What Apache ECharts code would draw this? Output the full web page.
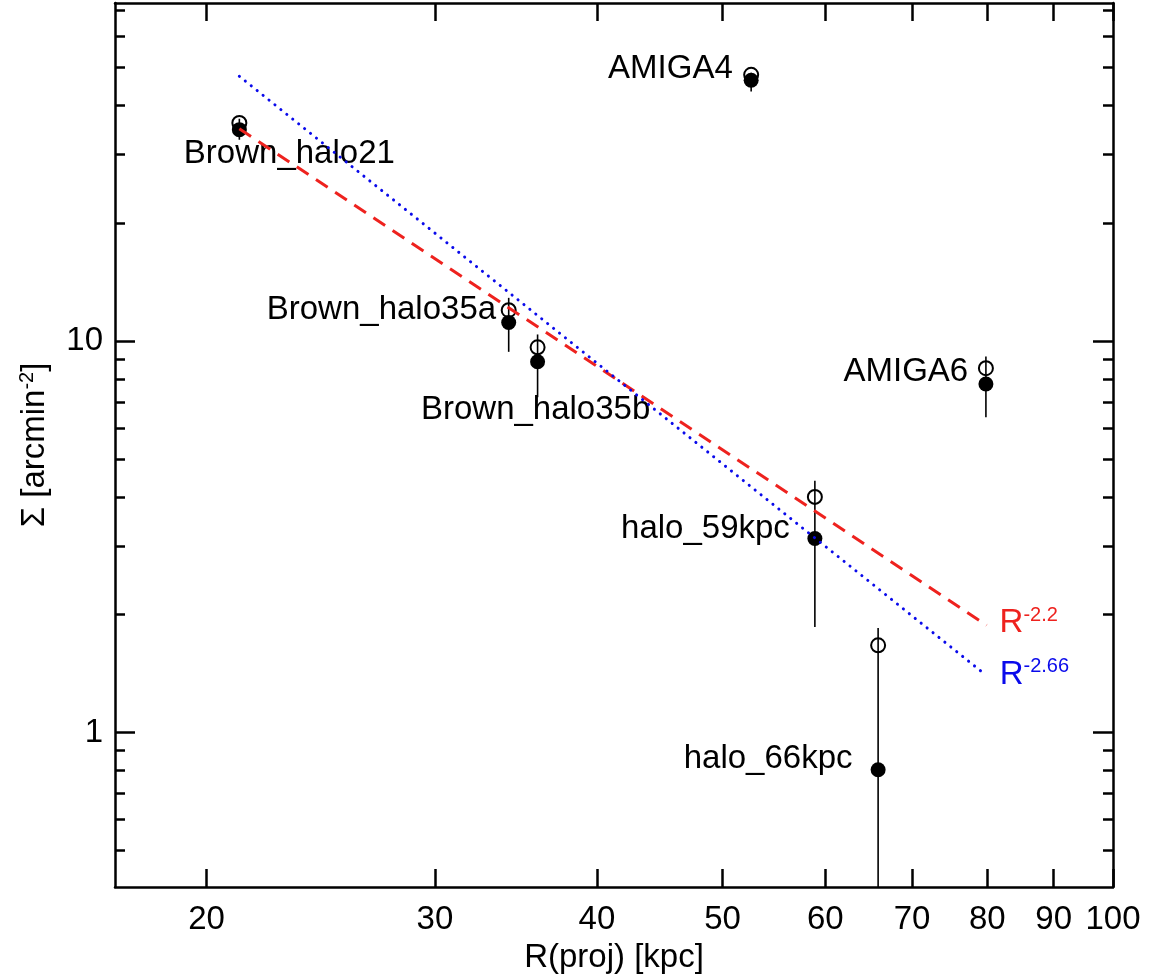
<!DOCTYPE html>
<html>
<head>
<meta charset="utf-8">
<script src="https://cdn.jsdelivr.net/npm/echarts@6/dist/echarts.min.js"></script>
<style>
html,body{margin:0;padding:0;background:#fff;}
#chart{width:1149px;height:979px;}
</style>
</head>
<body>
<div id="chart"></div>
<script>
// ---- data ----
const names = ['Brown_halo21', 'Brown_halo35a', 'Brown_halo35b', 'AMIGA4', 'AMIGA6', 'halo_59kpc', 'halo_66kpc'];
const rProj = [21.2, 34.2, 36.0, 52.6, 79.8, 58.9, 65.9];
const sigmaOpen = [36.1, 12.0, 9.64, 47.9, 8.53, 4.00, 1.67];
const sigmaFilled = [34.7, 11.16, 8.86, 46.4, 7.77, 3.13, 0.803];
const errLow = [32.7, 9.39, 7.19, 43.4, 6.39, 1.86, 0.30];
const errHigh = [37.0, 12.9, 10.4, 48.5, 9.14, 4.40, 1.85];

const redFitR = [21.2, 79.9];
const redFitSigma = [34.9, 1.88];
const blueFitR = [21.2, 79.2];
const blueFitSigma = [47.5, 1.43];

const xTicks = [20, 30, 40, 50, 60, 70, 80, 90, 100];
const yMajorTicks = [1, 10];
const yMinorTicks = [0.5, 0.6, 0.7, 0.8, 0.9, 2, 3, 4, 5, 6, 7, 8, 9, 20, 30, 40, 50, 60, 70];
const xRange = [17, 100];
const yRange = [0.403, 73.1];

// ---- label placement (styles, not data) ----
const labelPlacement = {
  'Brown_halo21': {align: 'center', offset: [50, 24]},
  'Brown_halo35a': {align: 'right', offset: [-12.6, -12.3]},
  'Brown_halo35b': {align: 'right', offset: [112.7, 48]},
  'AMIGA4': {align: 'right', offset: [-18.4, -11.7]},
  'AMIGA6': {align: 'right', offset: [-17.7, -12.5]},
  'halo_59kpc': {align: 'right', offset: [-25, -10]},
  'halo_66kpc': {align: 'right', offset: [-25.6, -10.7]}
};

const FONT = 'Liberation Sans';
const RED = 'rgb(238,34,30)';
const BLUE = 'rgb(10,10,235)';

const chart = echarts.init(document.getElementById('chart'), null, {renderer: 'canvas'});

function xAxisCfg(pos, showLabel) {
  return {
    type: 'log', min: xRange[0], max: xRange[1], position: pos,
    axisLine: {show: true, onZero: false, lineStyle: {color: '#000', width: 2.5}},
    axisTick: {show: true, inside: true, length: 18, lineStyle: {color: '#000', width: 2.5}, customValues: xTicks},
    axisLabel: {show: showLabel, customValues: xTicks, fontSize: 33, fontFamily: FONT, color: '#000', margin: 16},
    splitLine: {show: false}, minorTick: {show: false},
    name: showLabel ? 'R(proj) [kpc]' : '',
    nameLocation: 'middle', nameGap: 54,
    nameTextStyle: {fontSize: 33, fontFamily: FONT, color: '#000'}
  };
}
function yAxisCfg(pos, ticks, len, showLabel, showLine, title) {
  return {
    type: 'log', min: yRange[0], max: yRange[1], position: pos,
    axisLine: {show: showLine, onZero: false, lineStyle: {color: '#000', width: 2.5}},
    axisTick: {show: true, inside: true, length: len, lineStyle: {color: '#000', width: 2.5}, customValues: ticks},
    axisLabel: {show: showLabel, customValues: ticks, fontSize: 33, fontFamily: FONT, color: '#000', margin: 12},
    splitLine: {show: false}, minorTick: {show: false},
    name: title || '',
    nameLocation: 'middle', nameGap: 62, nameRotate: 90,
    nameTextStyle: {
      fontSize: 33, fontFamily: FONT, color: '#000',
      rich: {
        b: {fontSize: 33, fontFamily: FONT, color: '#000', lineHeight: 36},
        s: {fontSize: 20, fontFamily: FONT, color: '#000', lineHeight: 24, verticalAlign: 'top'}
      }
    }
  };
}

const errData = rProj.map((r, i) => [r, errLow[i], errHigh[i]]);
const openData = rProj.map((r, i) => [r, sigmaOpen[i]]);
const filledData = rProj.map((r, i) => {
  const lp = labelPlacement[names[i]];
  return {
    value: [r, sigmaFilled[i]],
    name: names[i],
    label: {
      show: true, position: 'inside', formatter: names[i],
      align: lp.align, verticalAlign: 'middle', offset: lp.offset,
      fontSize: 33, fontFamily: FONT, color: '#000', opacity: 1,
      textBorderWidth: 0
    }
  };
});

function endLabel(color, sup, off) {
  return {
    show: true, offset: off, distance: 0, align: 'left', verticalAlign: 'middle',
    formatter: '{b|R}{s|' + sup + '}',
    rich: {
      b: {fontSize: 33, fontFamily: FONT, color: color, lineHeight: 36},
      s: {fontSize: 20, fontFamily: FONT, color: color, lineHeight: 24, verticalAlign: 'top'}
    }
  };
}

const option = {
  animation: false,
  backgroundColor: '#fff',
  grid: {left: 115, right: 36, top: 3, bottom: 90, containLabel: false},
  xAxis: [xAxisCfg('bottom', true), xAxisCfg('top', false)],
  yAxis: [
    yAxisCfg('left', yMajorTicks, 20, true, true, '{b|\u03A3 [arcmin}{s|-2}{b|]}'),
    yAxisCfg('left', yMinorTicks, 10, false, false, ''),
    yAxisCfg('right', yMajorTicks, 20, false, true, ''),
    yAxisCfg('right', yMinorTicks, 10, false, false, '')
  ],
  series: [
    {
      type: 'custom', name: 'errors', xAxisIndex: 0, yAxisIndex: 0, clip: true, z: 2,
      data: errData,
      renderItem: function (params, api) {
        const p1 = api.coord([api.value(0), api.value(1)]);
        const p2 = api.coord([api.value(0), api.value(2)]);
        return {type: 'line', shape: {x1: p1[0], y1: p1[1], x2: p2[0], y2: p2[1]},
                style: {stroke: '#000', lineWidth: 1.6}};
      }
    },
    {
      type: 'scatter', name: 'open', xAxisIndex: 0, yAxisIndex: 0, z: 3,
      symbol: 'circle', symbolSize: 14,
      itemStyle: {color: 'rgba(0,0,0,0)', borderColor: '#000', borderWidth: 2, opacity: 1},
      emphasis: {disabled: true},
      data: openData
    },
    {
      type: 'scatter', name: 'filled', xAxisIndex: 0, yAxisIndex: 0, z: 4,
      symbol: 'circle', symbolSize: 15,
      itemStyle: {color: '#000', opacity: 1},
      emphasis: {disabled: true},
      data: filledData
    },
    {
      type: 'line', name: 'R-2.2', xAxisIndex: 0, yAxisIndex: 0, z: 5,
      showSymbol: false, symbol: 'none',
      lineStyle: {color: RED, width: 3, type: [14, 9]},
      endLabel: endLabel(RED, '-2.2', [13, -2]),
      data: redFitR.map((r, i) => [r, redFitSigma[i]])
    },
    {
      type: 'line', name: 'R-2.66', xAxisIndex: 0, yAxisIndex: 0, z: 5,
      showSymbol: false, symbol: 'none',
      lineStyle: {color: BLUE, width: 3, type: [0.1, 7.5], cap: 'round'},
      endLabel: endLabel(BLUE, '-2.66', [18, 3]),
      data: blueFitR.map((r, i) => [r, blueFitSigma[i]])
    }
  ]
};
chart.setOption(option);
</script>
</body>
</html>
